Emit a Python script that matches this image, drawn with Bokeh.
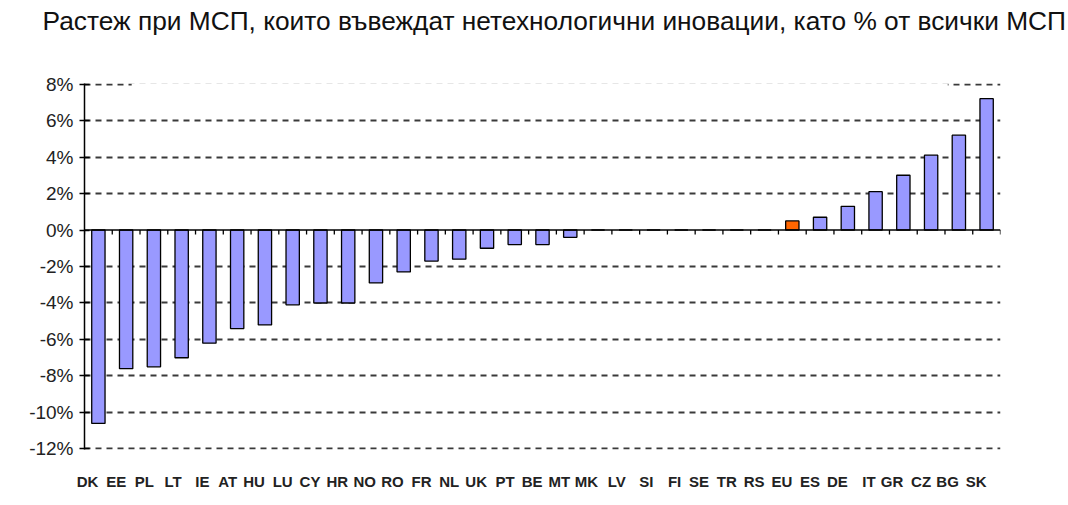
from bokeh.plotting import figure
from bokeh.models import (FactorRange, FixedTicker, PrintfTickFormatter, Span,
                          ColumnDataSource, BoxAnnotation, Title)
from bokeh.embed import file_html
from bokeh.resources import INLINE

# ---- data ----
categories = ["DK", "EE", "PL", "LT", "IE", "AT", "HU", "LU", "CY", "HR", "NO",
              "RO", "FR", "NL", "UK", "PT", "BE", "MT", "MK", "LV", "SI", "FI",
              "SE", "TR", "RS", "EU", "ES", "DE", "IT", "GR", "CZ", "BG", "SK"]
values = [-10.6, -7.6, -7.5, -7.0, -6.2, -5.4, -5.2, -4.1, -4.0, -4.0, -2.9,
          -2.3, -1.7, -1.6, -1.0, -0.8, -0.8, -0.4, 0.0, 0.0, 0.0, 0.0,
          0.0, 0.0, 0.0, 0.5, 0.7, 1.3, 2.1, 3.0, 4.1, 5.2, 7.2]
y_ticks = [-12, -10, -8, -6, -4, -2, 0, 2, 4, 6, 8]
title_text = "Растеж при МСП, които въвеждат нетехнологични иновации, като % от всички МСП"
highlight = "EU"

BAR = "#9999FF"
HIGH = "#FF6600"
colors = [HIGH if c == highlight else BAR for c in categories]

src = ColumnDataSource(dict(cat=categories, val=values, color=colors))

PAD = 0.03
p = figure(width=1068, height=505, output_backend="svg", toolbar_location=None,
           title=None,
           x_range=FactorRange(*categories, range_padding=0),
           y_range=(y_ticks[0] - PAD, y_ticks[-1] + PAD),
           min_border_left=84, min_border_right=68,
           min_border_top=83, min_border_bottom=56)
p.outline_line_color = None
p.background_fill_color = "white"
p.border_fill_color = "white"

# empty spacer panel next to the frame, then the real title above it
p.add_layout(Title(text=" ", text_font_size="41px", standoff=0), "above")
p.add_layout(Title(text=title_text, align="left", offset=-42, standoff=0,
                   text_font="Liberation Sans", text_font_size="26.3px",
                   text_font_style="normal", text_color="#111111"), "above")

# grid
p.xgrid.grid_line_color = None
p.ygrid.ticker = FixedTicker(ticks=[t for t in y_ticks if t != 0])
p.ygrid.grid_line_color = "#3a3a3a"
p.ygrid.grid_line_width = 2
p.ygrid.grid_line_dash = "6 5"

# top gridline partly hidden behind the title box in the original
p.add_layout(BoxAnnotation(left=1.7, right=31.1, bottom=y_ticks[-1] - 0.4,
                           top=y_ticks[-1] + 0.4, fill_color="white",
                           fill_alpha=1, line_color=None, level="underlay"))

# bars
p.vbar(x="cat", top="val", bottom=0, width=0.48, source=src,
       fill_color="color", line_color="black", line_width=1.3)

# zero line with category-boundary ticks
p.add_layout(Span(location=0, dimension="width", line_color="black", line_width=1.5))
bounds = list(range(len(categories) + 1))
p.segment(x0=bounds, x1=bounds, y0=[0] * len(bounds), y1=[-0.25] * len(bounds),
          line_color="black", line_width=1.3)

# y axis
ya = p.yaxis[0]
ya.ticker = FixedTicker(ticks=y_ticks)
ya.formatter = PrintfTickFormatter(format="%d%%")
ya.axis_line_color = "black"
ya.axis_line_width = 1.5
ya.major_tick_in = 5
ya.major_tick_out = 5
ya.major_tick_line_width = 1.5
ya.minor_tick_line_color = None
ya.major_label_text_font = "Liberation Sans"
ya.major_label_text_font_size = "19px"
ya.major_label_text_color = "#222222"
ya.major_label_standoff = 6

# x axis (labels only)
xa = p.xaxis[0]
xa.axis_line_color = None
xa.major_tick_line_color = None
xa.minor_tick_line_color = None
xa.major_label_text_font = "Liberation Sans"
xa.major_label_text_font_size = "15px"
xa.major_label_text_font_style = "bold"
xa.major_label_text_color = "#222222"
xa.major_label_standoff = 26
xa.major_label_orientation = 0

open("out.html", "w").write(file_html(p, INLINE))
